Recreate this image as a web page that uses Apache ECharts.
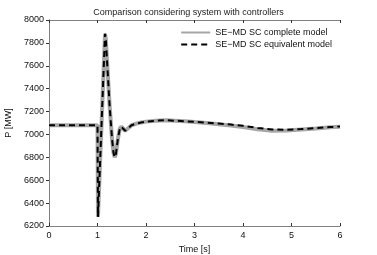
<!DOCTYPE html>
<html><head><meta charset="utf-8">
<script src="https://cdn.jsdelivr.net/npm/echarts@6/dist/echarts.min.js"></script>
<style>html,body{margin:0;padding:0;background:#fff}#c{width:377px;height:255px}</style>
</head><body><div id="c"></div>
<script>
var title = 'Comparison considering system with controllers';
var seriesNames = ['SE\u2212MD SC complete model', 'SE\u2212MD SC equivalent model'];
var xTicks = [0, 1, 2, 3, 4, 5, 6];
var yTicks = [6200, 6400, 6600, 6800, 7000, 7200, 7400, 7600, 7800, 8000];

var timeS = [0, 1.0, 1.01, 1.155, 1.17, 1.25, 1.3, 1.33, 1.355, 1.38, 1.42, 1.46, 1.49, 1.53, 1.57, 1.6, 1.65, 1.7, 1.8, 1.9, 2.0, 2.2, 2.4, 2.6, 2.8, 3.0, 3.25, 3.5, 3.75, 4.0, 4.3, 4.6, 4.9, 5.2, 5.5, 5.8, 6.0];
var complete = [7080, 7080, 6280, 7880, 7840, 7250, 6960, 6840, 6800, 6830, 6960, 7050, 7068, 7050, 7032, 7035, 7060, 7080, 7095, 7105, 7112, 7120, 7125, 7120, 7115, 7108, 7100, 7090, 7078, 7065, 7045, 7032, 7034, 7043, 7052, 7062, 7068];
var equivalent = [7080, 7080, 6280, 7880, 7840, 7250, 6960, 6840, 6800, 6830, 6960, 7050, 7068, 7050, 7032, 7035, 7060, 7080, 7095, 7105, 7112, 7120, 7125, 7120, 7115, 7110, 7103, 7095, 7086, 7075, 7057, 7043, 7041, 7047, 7055, 7064, 7070];

function pairs(xs, ys) { return xs.map(function (x, i) { return [x, ys[i]]; }); }

var font = 'Liberation Sans, Arial, sans-serif';
var axisGray = '#808080';
var chart = echarts.init(document.getElementById('c'));
chart.setOption({
  animation: false,
  title: { text: title, left: 'center', top: 3, textStyle: { fontFamily: font, fontSize: 9, fontWeight: 'normal', color: '#222' } },
  legend: {
    right: 40, top: 23, orient: 'vertical', itemGap: 3, itemWidth: 29, itemHeight: 9,
    itemStyle: { opacity: 0 },
    textStyle: { fontFamily: font, fontSize: 9, color: '#111' },
    data: seriesNames
  },
  grid: { left: 49, right: 37, top: 20, bottom: 29, containLabel: false, outerBoundsMode: 'none' },
  xAxis: [{
    type: 'value', min: 0, max: 6, interval: 1, name: 'Time [s]', nameLocation: 'middle', nameGap: 16,
    nameTextStyle: { fontFamily: font, fontSize: 9, color: '#111' },
    axisLine: { lineStyle: { color: axisGray, width: 1 } },
    axisTick: { inside: true, length: 3, lineStyle: { color: '#333' } },
    axisLabel: { fontFamily: font, fontSize: 9, color: '#111', margin: 5 },
    splitLine: { show: false }
  }, {
    type: 'value', position: 'top', min: 0, max: 6, interval: 1,
    axisLine: { lineStyle: { color: axisGray, width: 1 } },
    axisTick: { inside: true, length: 3, lineStyle: { color: '#333' } },
    axisLabel: { show: false }, splitLine: { show: false }
  }],
  yAxis: [{
    type: 'value', min: 6200, max: 8000, interval: 200, name: 'P [MW]', nameLocation: 'middle', nameGap: 32,
    nameTextStyle: { fontFamily: font, fontSize: 9, color: '#111' },
    axisLine: { show: true, lineStyle: { color: axisGray, width: 1 } },
    axisTick: { show: true, inside: false, length: 3, lineStyle: { color: '#333' } },
    axisLabel: { fontFamily: font, fontSize: 9, color: '#111', margin: 5, formatter: function (v) { return String(v); } },
    splitLine: { show: false }
  }, {
    type: 'value', position: 'right', min: 6200, max: 8000, interval: 200,
    axisLine: { show: true, lineStyle: { color: axisGray, width: 1 } },
    axisTick: { show: true, inside: true, length: 3, lineStyle: { color: '#333' } },
    axisLabel: { show: false }, splitLine: { show: false }
  }],
  series: [{
    name: seriesNames[0], type: 'line', data: pairs(timeS, complete), symbol: 'none',
    lineStyle: { color: '#a6a6a6', width: 4 }, itemStyle: { color: '#a6a6a6' }
  }, {
    name: seriesNames[1], type: 'line', data: pairs(timeS, equivalent), symbol: 'none',
    lineStyle: { color: '#000', width: 2, type: [6, 4] }, itemStyle: { color: '#000' }
  }]
});
</script></body></html>
